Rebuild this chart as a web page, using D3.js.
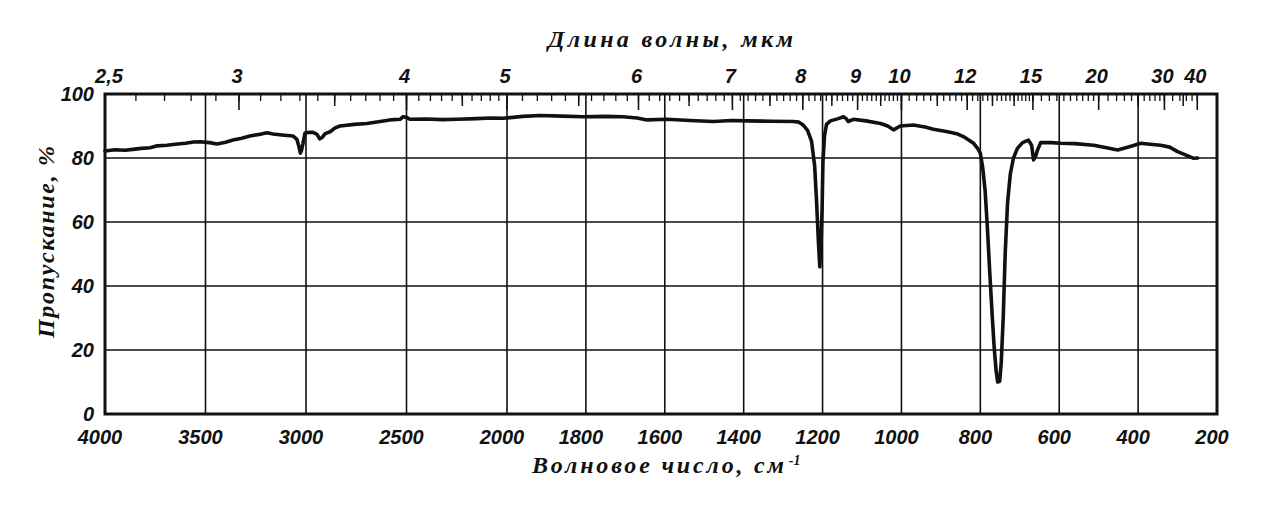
<!DOCTYPE html>
<html>
<head>
<meta charset="utf-8">
<script src="https://cdn.jsdelivr.net/npm/d3@7"></script>
<style>
  html, body { margin: 0; padding: 0; background: #fff; }
  svg { display: block; }
  .num { font-family: "Liberation Sans", Arial, sans-serif; font-style: italic; font-weight: bold; font-size: 20px; fill: #111; }
  .ttl { font-family: "Liberation Serif", "DejaVu Serif", serif; font-style: italic; font-weight: bold; font-size: 24px; fill: #111; }
</style>
</head>
<body>
<svg id="chart" width="1280" height="516"></svg>
<script>
// ---- data ----
const wavenumber = [4000, 3950, 3900, 3861, 3820, 3776, 3740, 3692, 3650, 3600, 3560, 3527, 3480, 3443, 3400, 3363, 3320, 3279, 3240, 3194, 3164, 3120, 3065, 3045, 3035, 3028, 3022, 3015, 3005, 2985, 2965, 2945, 2932, 2920, 2905, 2880, 2855, 2831, 2760, 2697, 2640, 2582, 2532, 2517, 2500, 2483, 2400, 2320, 2249, 2150, 2080, 2020, 1960, 1916, 1860, 1807, 1750, 1706, 1670, 1645, 1594, 1536, 1477, 1430, 1391, 1330, 1274, 1260, 1249, 1238, 1228, 1220, 1215, 1211, 1207, 1204, 1201, 1199, 1195, 1190, 1180, 1160, 1147, 1140, 1135, 1122, 1090, 1053, 1035, 1020, 1003, 970, 940, 919, 883, 860, 843, 817, 807, 800, 794, 788, 782, 776, 770, 765, 760, 756, 751, 747, 742, 737, 731, 724, 716, 706, 693, 678, 670, 665, 660, 655, 647, 620, 596, 560, 513, 480, 452, 420, 393, 370, 343, 320, 300, 280, 259, 249];
const transmittance = [82.2, 82.6, 82.4, 82.7, 83.0, 83.2, 83.8, 84.0, 84.3, 84.6, 85.0, 85.1, 84.8, 84.4, 84.9, 85.6, 86.2, 86.9, 87.3, 87.9, 87.5, 87.2, 86.9, 85.8, 83.5, 81.5, 82.5, 84.5, 87.8, 88.0, 88.0, 87.4, 86.0, 86.4, 87.6, 88.2, 89.4, 90.0, 90.5, 90.8, 91.3, 91.9, 92.1, 92.9, 92.7, 92.1, 92.2, 92.0, 92.1, 92.3, 92.5, 92.4, 93.0, 93.3, 93.1, 92.9, 93.0, 92.9, 92.5, 91.9, 92.1, 91.7, 91.4, 91.7, 91.6, 91.5, 91.4, 91.2, 90.3, 88.6, 85.3, 77.5, 66.0, 55.0, 46.0, 52.0, 65.0, 79.0, 87.0, 90.5, 91.6, 92.3, 92.9, 92.3, 91.4, 92.1, 91.6, 90.8, 90.0, 88.8, 90.0, 90.3, 89.7, 89.0, 88.2, 87.6, 86.7, 84.6, 83.0, 81.5, 77.0, 70.0, 58.0, 44.0, 31.0, 21.0, 13.5, 10.0, 10.2, 16.0, 30.0, 50.0, 66.0, 75.0, 80.0, 83.0, 84.8, 85.6, 84.0, 79.4, 80.5, 82.5, 84.8, 84.8, 84.6, 84.5, 84.0, 83.2, 82.5, 83.6, 84.6, 84.3, 84.0, 83.4, 82.0, 81.0, 79.9, 80.0];

const wnTicks = [4000, 3500, 3000, 2500, 2000, 1800, 1600, 1400, 1200, 1000, 800, 600, 400, 200];
const tTicks = [0, 20, 40, 60, 80, 100];
const umLabels = [2.5, 3, 4, 5, 6, 7, 8, 9, 10, 12, 15, 20, 30, 40];
const umLabelText = ["2,5", "3", "4", "5", "6", "7", "8", "9", "10", "12", "15", "20", "30", "40"];
// minor tick segments of the wavelength scale: [from, to, step]
const umMinorSegments = [[2.5, 10, 0.1], [10, 15, 0.2], [15, 20, 0.5], [20, 30, 1], [30, 40, 2]];
const umMediumTicks = [3.5, 4.5, 5.5, 6.5, 7.5, 8.5, 9.5, 11, 13, 14, 25, 35];

const titleTop = "Длина волны, мкм";
const titleBottom = "Волновое число, см";
const titleY = "Пропускание, %";

// ---- scales ----
const x = d3.scaleLinear().domain([4000, 2000, 200]).range([105, 507, 1217]);
const y = d3.scaleLinear().domain([0, 100]).range([414, 94]);
const xum = um => x(10000 / um);

const svg = d3.select("#chart");

// grid
const g = svg.append("g");
g.selectAll("line.vg").data(wnTicks.slice(1, -1)).join("line")
  .attr("x1", d => x(d)).attr("x2", d => x(d))
  .attr("y1", y(100)).attr("y2", y(0))
  .attr("stroke", "#111").attr("stroke-width", 1.6);
g.selectAll("line.hg").data(tTicks.slice(1, -1)).join("line")
  .attr("x1", x(4000)).attr("x2", x(200))
  .attr("y1", d => y(d)).attr("y2", d => y(d))
  .attr("stroke", "#111").attr("stroke-width", 1.4);

// wavelength ticks along the top
const minor = [];
umMinorSegments.forEach(([a, b, s]) => {
  for (let v = a; v <= b + 1e-9; v += s) minor.push(+v.toFixed(2));
});
g.selectAll("line.mt").data(minor).join("line")
  .attr("x1", d => xum(d)).attr("x2", d => xum(d))
  .attr("y1", y(100)).attr("y2", y(100) + 7)
  .attr("stroke", "#111").attr("stroke-width", 1.3);
g.selectAll("line.md").data(umMediumTicks).join("line")
  .attr("x1", d => xum(d)).attr("x2", d => xum(d))
  .attr("y1", y(100)).attr("y2", y(100) + 12)
  .attr("stroke", "#111").attr("stroke-width", 1.5);
g.selectAll("line.mj").data(umLabels).join("line")
  .attr("x1", d => xum(d)).attr("x2", d => xum(d))
  .attr("y1", y(100)).attr("y2", y(100) + 16)
  .attr("stroke", "#111").attr("stroke-width", 1.6);

// frame
svg.append("rect")
  .attr("x", x(4000)).attr("y", y(100))
  .attr("width", x(200) - x(4000)).attr("height", y(0) - y(100))
  .attr("fill", "none").attr("stroke", "#111").attr("stroke-width", 3);

// spectrum
const pts = wavenumber.map((w, i) => [w, transmittance[i]]);
svg.append("path").datum(pts)
  .attr("fill", "none").attr("stroke", "#111").attr("stroke-width", 3.6)
  .attr("stroke-linejoin", "round").attr("stroke-linecap", "round")
  .attr("d", d3.line().x(d => x(d[0])).y(d => y(d[1])));

// bottom labels
svg.selectAll("text.bx").data(wnTicks).join("text")
  .attr("class", "num").attr("text-anchor", "middle")
  .attr("x", d => x(d) - 5).attr("y", 444)
  .text(d => d);

// left labels
svg.selectAll("text.ly").data(tTicks).join("text")
  .attr("class", "num").attr("text-anchor", "end")
  .attr("x", 94).attr("y", d => y(d) + 7)
  .text(d => d);

// top labels
svg.selectAll("text.tx").data(umLabels).join("text")
  .attr("class", "num").attr("text-anchor", "middle")
  .attr("x", (d, i) => xum(d) + (i === 0 ? 4 : -2)).attr("y", 83)
  .text((d, i) => umLabelText[i]);

// titles
svg.append("text").attr("class", "ttl")
  .attr("x", 548).attr("y", 47)
  .attr("textLength", 245).attr("lengthAdjust", "spacing")
  .text(titleTop);

const bt = svg.append("text").attr("class", "ttl")
  .attr("x", 532).attr("y", 473);
bt.append("tspan").attr("textLength", 252).attr("lengthAdjust", "spacing").text(titleBottom);
bt.append("tspan").attr("dy", -8).attr("dx", 2).style("font-size", "14px").text("-1");

svg.append("text").attr("class", "ttl")
  .attr("transform", "translate(54,338) rotate(-90)")
  .attr("x", 0).attr("y", 0)
  .attr("textLength", 192).attr("lengthAdjust", "spacing")
  .text(titleY);
</script>
</body>
</html>
